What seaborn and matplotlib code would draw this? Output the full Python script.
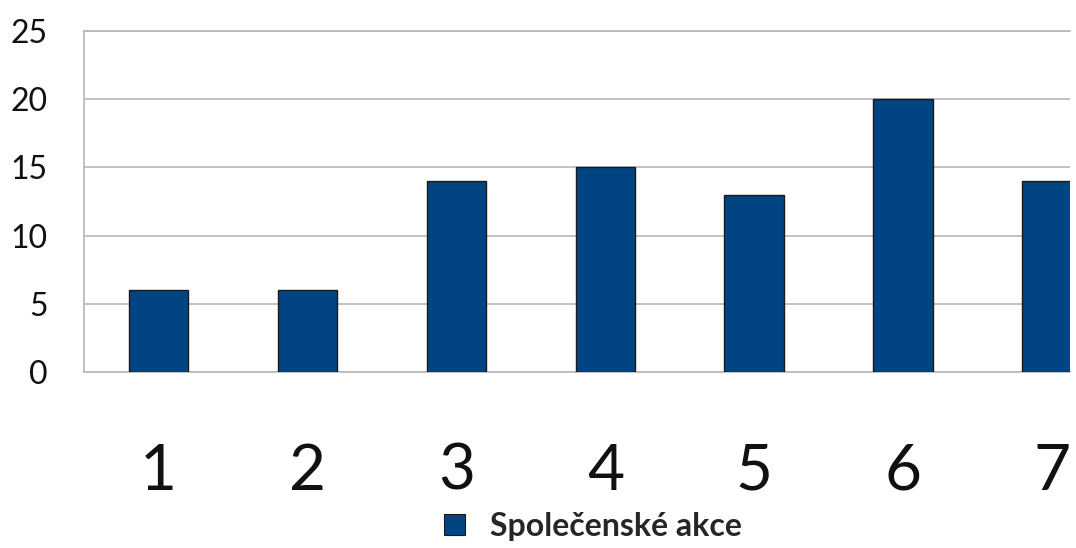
import seaborn as sns
import matplotlib.pyplot as plt
import pandas as pd
from matplotlib.patches import Patch

# data
categories = ['1', '2', '3', '4', '5', '6', '7']
values = [6, 6, 14, 15, 13, 20, 14]
series_name = 'Společenské akce'

df = pd.DataFrame({'kategorie': categories, 'pocet': values})

sns.set_style('white')
plt.rcParams['font.family'] = ['Lato', 'DejaVu Sans']

fig = plt.figure(figsize=(10.76, 5.48), dpi=100)
ax = fig.add_axes([84 / 1076, 176 / 548, 986 / 1076, 341 / 548])

bar_color = '#004582'
sns.barplot(data=df, x='kategorie', y='pocet', color=bar_color, width=0.40,
            edgecolor='#1a1a1a', linewidth=1.0, saturation=1, ax=ax, zorder=3)

ax.set_xlim(-0.5, 6.12)
ax.set_ylim(0, 25)
ax.set_yticks([0, 5, 10, 15, 20, 25])
ax.yaxis.grid(True, color='#b8b8b8', linewidth=1.2, zorder=0)
ax.set_axisbelow(True)

for side in ['left', 'bottom', 'top']:
    ax.spines[side].set_color('#b8b8b8')
    ax.spines[side].set_linewidth(1.2)
ax.spines['right'].set_visible(False)

ax.tick_params(axis='y', labelsize=23, length=0, pad=26, colors='#111111')
ax.tick_params(axis='x', labelsize=46, length=0, pad=51, colors='#111111')
ax.set_xlabel('')
ax.set_ylabel('')

handle = Patch(facecolor=bar_color, edgecolor='#1a1a1a', linewidth=0.8)
fig.legend([handle], [series_name], loc='center', bbox_to_anchor=(0.551, 0.04),
           frameon=False, handlelength=0.65, handleheight=0.65, handletextpad=0.8,
           prop={'size': 23, 'weight': 'bold'})

fig.savefig('out.png', dpi=100)
